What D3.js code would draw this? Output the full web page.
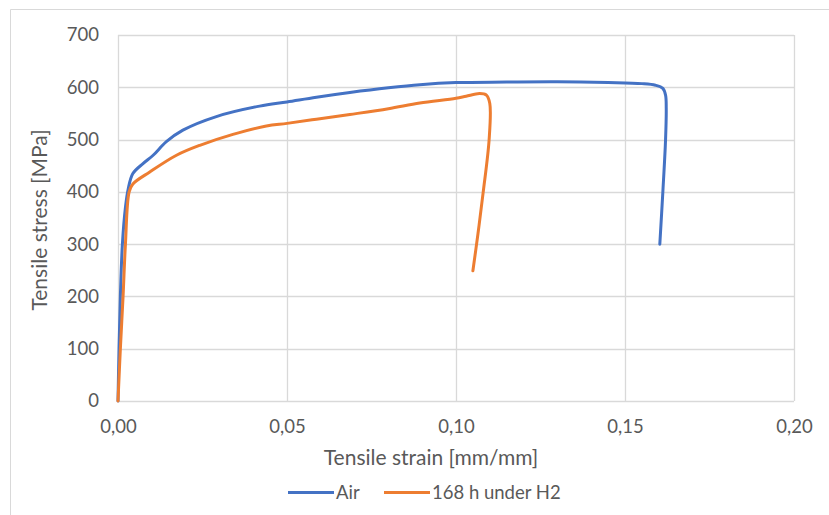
<!DOCTYPE html>
<html>
<head>
<meta charset="utf-8">
<script src="https://cdn.jsdelivr.net/npm/d3@7"></script>
<style>
  body { margin: 0; background: #fff; }
  text { font-family: Lato, "Open Sans", sans-serif; fill: #595959; }
</style>
</head>
<body>
<div id="chart"></div>
<script>
const width = 829;
const height = 515;

// Data: [strain, stress]
const airCurve = [
  [0, 0], [0.0003, 100], [0.0007, 200], [0.0013, 300], [0.0022, 370], [0.003, 405],
  [0.0044, 435], [0.0074, 454], [0.0104, 470], [0.0143, 496], [0.0192, 518],
  [0.0291, 544], [0.0419, 564], [0.05, 572], [0.0587, 581], [0.0686, 590],
  [0.08, 599], [0.0893, 605], [0.10, 609], [0.115, 610], [0.13, 610.5], [0.145, 609],
  [0.155, 607], [0.159, 604], [0.1612, 598], [0.1620, 585], [0.1622, 560],
  [0.1620, 500], [0.1612, 400], [0.1603, 300]
];
const h2Curve = [
  [0, 0], [0.0007, 100], [0.0015, 200], [0.0022, 300], [0.0033, 400], [0.0044, 415],
  [0.0094, 438], [0.0173, 470], [0.0242, 489], [0.034, 510], [0.0439, 526],
  [0.05, 531], [0.0587, 539], [0.0686, 548], [0.08, 559], [0.0893, 570],
  [0.10, 579], [0.103, 583], [0.107, 588], [0.109, 585], [0.110, 569],
  [0.1098, 500], [0.108, 397], [0.1065, 320], [0.105, 249]
];
const seriesNames = ["Air", "168 h under H2"];
const seriesColors = ["#4472C4", "#ED7D31"];
const xTicks = [0, 0.05, 0.10, 0.15, 0.20];
const yTicks = [0, 100, 200, 300, 400, 500, 600, 700];

const svg = d3.select("#chart")
    .append("svg")
    .attr("width", width)
    .attr("height", height);

// outer chart frame (cut by the screenshot on right and bottom)
svg.append("path")
    .attr("d", "M10.5,515V9.5H829")
    .attr("fill", "none")
    .attr("stroke", "#d9d9d9");

const x = d3.scaleLinear().domain([0, 0.2]).range([118, 794]);
const y = d3.scaleLinear().domain([0, 700]).range([401, 35]);

// gridlines
svg.append("g")
    .selectAll("line.h")
    .data(yTicks)
    .enter().append("line")
    .attr("x1", x(0)).attr("x2", x(0.2))
    .attr("y1", d => Math.round(y(d)) + 0.5).attr("y2", d => Math.round(y(d)) + 0.5)
    .attr("stroke", "#d9d9d9").attr("stroke-width", 1.3);

svg.append("g")
    .selectAll("line.v")
    .data(xTicks)
    .enter().append("line")
    .attr("y1", y(0)).attr("y2", y(700))
    .attr("x1", d => Math.round(x(d)) + 0.5).attr("x2", d => Math.round(x(d)) + 0.5)
    .attr("stroke", "#d9d9d9").attr("stroke-width", 1.3);

// axes (labels only, Excel style)
const fmt = d => d3.format(".2f")(d).replace(".", ",");
const xAxis = svg.append("g")
    .attr("transform", `translate(0,${y(0)})`)
    .call(d3.axisBottom(x).tickValues(xTicks).tickFormat(fmt).tickSize(0).tickPadding(19));
const yAxis = svg.append("g")
    .attr("transform", `translate(${x(0)},0)`)
    .call(d3.axisLeft(y).tickValues(yTicks).tickSize(0).tickPadding(19));
[xAxis, yAxis].forEach(g => {
  g.select(".domain").remove();
  g.selectAll("text").attr("font-size", 18.5).attr("fill", "#595959")
    .attr("font-family", "Lato, 'Open Sans', sans-serif");
});

// axis titles
svg.append("text")
    .attr("x", 431).attr("y", 465)
    .attr("text-anchor", "middle")
    .attr("font-size", 21)
    .text("Tensile strain [mm/mm]");

svg.append("text")
    .attr("transform", "translate(47,220) rotate(-90)")
    .attr("text-anchor", "middle")
    .attr("font-size", 21)
    .text("Tensile stress [MPa]");

// curves
const line = d3.line()
    .x(d => x(d[0]))
    .y(d => y(d[1]))
    .curve(d3.curveCatmullRom.alpha(0.5));

[airCurve, h2Curve].forEach((data, i) => {
  svg.append("path")
      .datum(data)
      .attr("d", line)
      .attr("fill", "none")
      .attr("stroke", seriesColors[i])
      .attr("stroke-width", 3)
      .attr("stroke-linejoin", "round")
      .attr("stroke-linecap", "round");
});

// legend
const legendX = [288, 384];
const legend = svg.append("g");
seriesNames.forEach((name, i) => {
  legend.append("line")
      .attr("x1", legendX[i]).attr("x2", legendX[i] + 46)
      .attr("y1", 492.5).attr("y2", 492.5)
      .attr("stroke", seriesColors[i])
      .attr("stroke-width", 3);
  legend.append("text")
      .attr("x", legendX[i] + 48).attr("y", 499)
      .attr("font-size", 18.5)
      .text(name);
});
</script>
</body>
</html>
